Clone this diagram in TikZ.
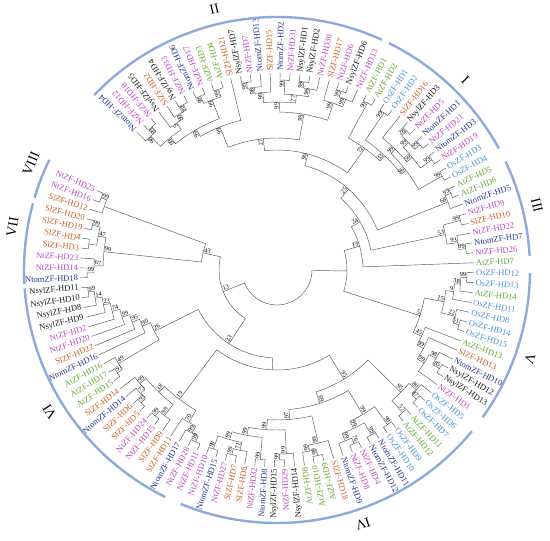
\documentclass[tikz,border=0pt]{standalone}
\usepackage{fontspec}
\setmainfont{Liberation Serif}
\usepackage{tikz}
\usetikzlibrary{positioning,calc}

% colours of the species
\definecolor{nt}{RGB}{185,70,190}
\definecolor{sl}{RGB}{200,95,35}
\definecolor{nsyl}{RGB}{25,25,25}
\definecolor{ntom}{RGB}{40,50,150}
\definecolor{at}{RGB}{95,170,45}
\definecolor{os}{RGB}{70,145,215}
\definecolor{grparc}{RGB}{140,170,220}
\definecolor{brgray}{RGB}{85,85,85}

\tikzset{
  leaf/.style={font=\fontsize{8.5}{9}\selectfont, inner sep=0pt},
  boot/.style={font=\fontsize{6.3}{6.5}\selectfont, inner sep=0.6pt, text=black},
  branch/.style={draw=brgray, line width=0.45pt},
  grp/.style={draw=grparc, line width=2.4pt},
  numeral/.style={font=\fontsize{14}{14}\selectfont, inner sep=0pt}
}

% join two children (leaf number or clade name) at radius #4, bootstrap #5
\newcommand\jn[5]{%
  \edef\jA{\csname a#2\endcsname}%
  \edef\jB{\csname a#3\endcsname}%
  \edef\jRa{\csname r#2\endcsname}%
  \edef\jRb{\csname r#3\endcsname}%
  \pgfmathsetmacro\jM{(\jA+\jB)/2}%
  \expandafter\xdef\csname a#1\endcsname{\jM}%
  \expandafter\xdef\csname r#1\endcsname{#4}%
  \draw[branch] (\jA:\jRa pt) -- (\jA:#4pt)
    arc[start angle=\jA, end angle=\jB, radius=#4pt] -- (\jB:\jRb pt);
  \ifdim\jM pt<-74.7pt
    \node[boot, rotate=\jM+180, anchor=south west] (b#1) at (\jM:#4pt) {#5};
  \else
    \node[boot, rotate=\jM, anchor=south east] (b#1) at (\jM:#4pt) {#5};
  \fi
}

\begin{document}
\begin{tikzpicture}
\useasboundingbox (-277pt,-271pt) rectangle (273pt,270pt);

% leaf labels, clockwise from the top left
\foreach \i/\gene/\col in {
  1/NtomZF-HD4/ntom, 2/NtZF-HD12/nt, 3/NtZF-HD18/nt, 4/NsylZF-HD5/nsyl,
  5/SlZF-HD2/sl, 6/NsylZF-HD4/nsyl, 7/NtZF-HD33/nt, 8/NtomZF-HD6/ntom,
  9/NtZF-HD17/nt, 10/AtZF-HD3/at, 11/AtZF-HD4/at, 12/SlZF-HD21/sl,
  13/NsylZF-HD7/nsyl, 14/NtZF-HD7/nt, 15/NtomZF-HD13/ntom, 16/SlZF-HD15/sl,
  17/NtomZF-HD2/ntom, 18/NtZF-HD31/nt, 19/NsylZF-HD1/nsyl, 20/NsylZF-HD2/nsyl,
  21/NtZF-HD30/nt, 22/SlZF-HD17/sl, 23/NtZF-HD6/nt, 24/NsylZF-HD6/nsyl,
  25/NtZF-HD13/nt, 26/AtZF-HD1/at, 27/AtZF-HD2/at, 28/OsZF-HD1/os,
  29/OsZF-HD2/os, 30/SlZF-HD16/sl, 31/NsylZF-HD3/nsyl, 32/NtZF-HD5/nt,
  33/NtomZF-HD1/ntom, 34/NtZF-HD21/nt, 35/NtomZF-HD3/ntom, 36/NtZF-HD19/nt,
  37/OsZF-HD3/os, 38/OsZF-HD4/os, 39/AtZF-HD5/at, 40/AtZF-HD6/at,
  41/NtomZF-HD5/ntom, 42/NtZF-HD9/nt, 43/SlZF-HD10/sl, 44/NtZF-HD22/nt,
  45/NtomZF-HD7/ntom, 46/NtZF-HD26/nt, 47/AtZF-HD7/at, 48/OsZF-HD12/os,
  49/OsZF-HD13/os, 50/AtZF-HD14/at, 51/OsZF-HD11/os, 52/OsZF-HD8/os,
  53/OsZF-HD14/os, 54/OsZF-HD15/os, 55/AtZF-HD13/at, 56/SlZF-HD13/sl,
  57/NtomZF-HD10/ntom, 58/NsylZF-HD12/nsyl, 59/NsylZF-HD13/nsyl, 60/NtZF-HD1/nt,
  61/OsZF-HD5/os, 62/OsZF-HD6/os, 63/OsZF-HD7/os, 64/AtZF-HD11/at,
  65/AtZF-HD12/at, 66/OsZF-HD9/os, 67/OsZF-HD10/os, 68/NtomZF-HD11/ntom,
  69/NtomZF-HD12/ntom, 70/NtZF-HD4/nt, 71/NtZF-HD8/nt, 72/NtomZF-HD9/ntom,
  73/SlZF-HD18/sl, 74/AtZF-HD9/at, 75/AtZF-HD10/at, 76/AtZF-HD8/at,
  77/NsylZF-HD14/nsyl, 78/NtZF-HD29/nt, 79/NsylZF-HD15/nsyl, 80/NtomZF-HD8/ntom,
  81/NtZF-HD32/nt, 82/SlZF-HD8/sl, 83/SlZF-HD7/sl, 84/NtZF-HD27/nt,
  85/NtomZF-HD15/ntom, 86/NtZF-HD10/nt, 87/NtZF-HD11/nt, 88/NtZF-HD28/nt,
  89/NtomZF-HD17/ntom, 90/SlZF-HD11/sl, 91/SlZF-HD9/sl, 92/NtZF-HD15/nt,
  93/NtZF-HD24/nt, 94/SlZF-HD5/sl, 95/SlZF-HD6/sl, 96/NtomZF-HD14/ntom,
  97/SlZF-HD14/sl, 98/AtZF-HD15/at, 99/AtZF-HD17/at, 100/AtZF-HD16/at,
  101/NtomZF-HD16/ntom, 102/SlZF-HD22/sl, 103/NtZF-HD20/nt, 104/NtZF-HD2/nt,
  105/NsylZF-HD9/nsyl, 106/NsylZF-HD8/nsyl, 107/NsylZF-HD10/nsyl, 108/NsylZF-HD11/nsyl,
  109/NtomZF-HD18/ntom, 110/NtZF-HD14/nt, 111/NtZF-HD23/nt, 112/SlZF-HD3/sl,
  113/SlZF-HD4/sl, 114/SlZF-HD19/sl, 115/SlZF-HD20/sl, 116/SlZF-HD12/sl,
  117/NtZF-HD16/nt, 118/NtZF-HD25/nt}{
  \pgfmathsetmacro\leafang{135.5-(\i-1)*2.9}
  \expandafter\xdef\csname a\i\endcsname{\leafang}
  \expandafter\xdef\csname r\i\endcsname{197}
  \ifdim\leafang pt<-74.7pt
    \node[leaf, text=\col, rotate=\leafang+180, anchor=east] (L\i) at (\leafang:199pt) {\gene};
  \else
    \node[leaf, text=\col, rotate=\leafang, anchor=west] (L\i) at (\leafang:199pt) {\gene};
  \fi
}

% group II
\jn{z1}{2}{3}{190}{99}
\jn{z2}{1}{z1}{184}{98}
\jn{z3}{6}{7}{190}{99}
\jn{z4}{5}{z3}{184}{99}
\jn{z5}{4}{z4}{178}{5}
\jn{z6}{z2}{z5}{170}{99}
\jn{z7}{8}{9}{190}{99}
\jn{z8}{10}{11}{190}{99}
\jn{z9}{z7}{z8}{182}{99}
\jn{z10}{z6}{z9}{162}{99}
\jn{z11}{z10}{12}{154}{99}
\jn{z12}{13}{14}{190}{99}
\jn{z13}{z12}{15}{184}{98}
\jn{z14}{z13}{16}{178}{99}
\jn{z15}{17}{18}{190}{99}
\jn{z16}{19}{20}{190}{99}
\jn{z17}{z16}{21}{184}{96}
\jn{z18}{z15}{z17}{176}{77}
\jn{z19}{z14}{z18}{168}{99}
\jn{z20}{23}{24}{190}{99}
\jn{z21}{z20}{25}{184}{99}
\jn{z22}{22}{z21}{176}{99}
\jn{z23}{z19}{z22}{158}{99}
\jn{z24}{z11}{z23}{132}{27}

% group I
\jn{y1}{26}{27}{190}{99}
\jn{y2}{28}{29}{190}{99}
\jn{y3}{31}{32}{190}{28}
\jn{y4}{33}{34}{190}{99}
\jn{y5}{y3}{y4}{183}{99}
\jn{y6}{35}{36}{190}{99}
\jn{y7}{y5}{y6}{176}{50}
\jn{y8}{30}{y7}{169}{99}
\jn{y9}{37}{38}{190}{99}
\jn{y10}{y8}{y9}{163}{96}
\jn{y11}{y2}{y10}{157}{33}
\jn{y12}{y1}{y11}{150}{72}

% group III
\jn{x1}{39}{40}{190}{99}
\jn{x2}{x1}{41}{184}{68}
\jn{x3}{42}{43}{190}{99}
\jn{x4}{45}{46}{190}{99}
\jn{x5}{44}{x4}{183}{93}
\jn{x6}{x3}{x5}{172}{53}

% group V
\jn{v1}{48}{49}{190}{99}
\jn{v2}{v1}{50}{184}{38}
\jn{v3}{v2}{51}{178}{9}
\jn{v4}{53}{54}{190}{51}
\jn{v5}{52}{v4}{184}{22}
\jn{v6}{v3}{v5}{170}{15}
\jn{w1}{58}{59}{190}{85}
\jn{w2}{57}{w1}{182}{98}
\jn{w3}{w2}{60}{174}{99}
\jn{w4}{56}{w3}{166}{99}
\jn{w5}{55}{w4}{159}{45}
\jn{w6}{v6}{w5}{150}{5}

% group IV
\jn{n1}{62}{63}{190}{87}
\jn{n2}{61}{n1}{184}{80}
\jn{n3}{64}{65}{190}{57}
\jn{n4}{n2}{n3}{174}{95}
\jn{m5}{66}{67}{190}{99}
\jn{m3}{68}{69}{190}{99}
\jn{m1}{70}{71}{190}{76}
\jn{m2}{72}{m1}{184}{99}
\jn{m4}{m3}{m2}{176}{99}
\jn{m6}{m5}{m4}{168}{99}
\jn{l1}{74}{75}{190}{99}
\jn{l2}{l1}{76}{184}{99}
\jn{l3}{73}{l2}{178}{99}
\jn{k7}{78}{79}{190}{99}
\jn{k8}{77}{k7}{184}{99}
\jn{k5}{80}{81}{190}{99}
\jn{k2}{83}{84}{190}{99}
\jn{k3}{82}{k2}{184}{71}
\jn{k1}{85}{86}{190}{99}
\jn{k4}{k3}{k1}{176}{99}
\jn{k6}{k5}{k4}{168}{99}
\jn{k9}{k8}{k6}{160}{99}
\jn{k10}{l3}{k9}{150}{97}
\jn{k11}{m6}{k10}{140}{69}
\jn{k12}{n4}{k11}{128}{95}

% group VI
\jn{j1}{87}{88}{190}{99}
\jn{j2}{j1}{89}{184}{99}
\jn{j3}{j2}{90}{176}{70}
\jn{i4}{92}{93}{190}{99}
\jn{i6}{91}{i4}{184}{99}
\jn{i1}{94}{95}{190}{93}
\jn{i2}{i1}{96}{184}{73}
\jn{i3}{i2}{97}{178}{99}
\jn{i5}{i6}{i3}{170}{38}
\jn{i7}{j3}{i5}{162}{19}
\jn{h1}{98}{99}{190}{91}
\jn{h2}{h1}{100}{184}{49}
\jn{g1}{107}{108}{190}{99}
\jn{g2}{106}{g1}{184}{14}
\jn{g3}{105}{g2}{177}{23}
\jn{g4}{104}{g3}{170}{74}
\jn{g5}{103}{g4}{162}{99}
\jn{g6}{102}{g5}{154}{95}
\jn{g7}{101}{g6}{146}{90}
\jn{g8}{h2}{g7}{137}{26}

% groups VII and VIII
\jn{f1}{114}{115}{190}{99}
\jn{f2}{112}{113}{190}{}
\jn{f3}{f2}{f1}{182}{47}
\jn{f4}{109}{110}{190}{99}
\jn{f5}{f4}{111}{183}{67}
\jn{f6}{f5}{f3}{174}{99}
\jn{e1}{117}{118}{190}{99}
\jn{e2}{116}{e1}{184}{}

% deep nodes
\jn{t1}{z24}{y12}{120}{90}
\jn{t2}{t1}{x2}{108}{25}
\jn{t3}{t2}{x6}{96}{24}
\jn{t4}{t3}{47}{86}{13}
\jn{t5}{t4}{w6}{70}{}
\jn{u1}{k12}{i7}{100}{}
\jn{u2}{u1}{g8}{88}{23}
\jn{u3}{f6}{e2}{76}{43}
\jn{u4}{u2}{u3}{58}{13}
\jn{root}{t5}{u4}{35}{}

% group arcs
\draw[grp] (136.3:253pt) arc[start angle=136.3, end angle=65.5, radius=253pt];
\draw[grp] (63.7:253pt) arc[start angle=63.7, end angle=28.7, radius=253pt];
\draw[grp] (25.4:253pt) arc[start angle=25.4, end angle=3.2, radius=253pt];
\draw[grp] (-0.7:253pt) arc[start angle=-0.7, end angle=-35.6, radius=253pt];
\draw[grp] (-39.6:253pt) arc[start angle=-39.6, end angle=-112.4, radius=253pt];
\draw[grp] (-116.2:253pt) arc[start angle=-116.2, end angle=-175.8, radius=253pt];
\draw[grp] (-176.8:253pt) arc[start angle=-176.8, end angle=-195.3, radius=253pt];
\draw[grp] (-196.6:253pt) arc[start angle=-196.6, end angle=-205.8, radius=253pt];

% group numerals
\foreach \ang/\nm in {103.5/II, 45.3/I, 14/III, -19.4/V, -71.3/IV,
  -148/VI, -189.3/VII, -203.4/VIII}
  \node[numeral, rotate=\ang-90] (n\nm) at (\ang:268pt) {\nm};
\end{tikzpicture}
\end{document}
